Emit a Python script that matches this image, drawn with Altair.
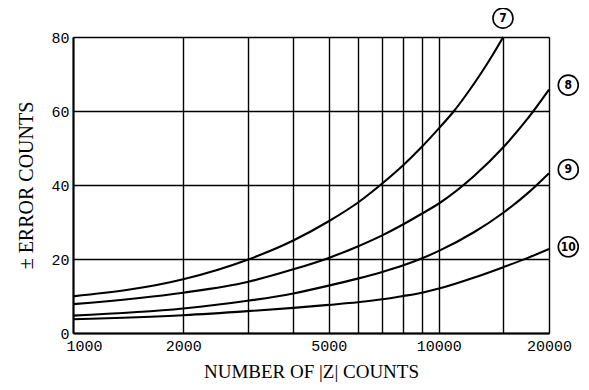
import altair as alt
import pandas as pd

# ---- data ----
x7 = [1000, 2000, 3000, 4000, 5000, 6000, 7000, 8000, 9000, 10000, 11000, 12000, 13000, 14000, 15000]
y7 = [9.9, 14.5, 19.8, 25.0, 30.2, 35.2, 40.4, 45.4, 50.4, 55.3, 60.0, 65.0, 70.0, 75.0, 80.0]

x_rest = [1000, 2000, 3000, 4000, 5000, 6000, 7000, 8000, 9000, 10000, 12500, 15000, 17500, 20000]
y8 = [7.8, 10.9, 13.8, 17.2, 20.3, 23.4, 26.4, 29.4, 32.3, 35.0, 42.5, 50.2, 58.0, 65.8]
y9 = [4.7, 6.6, 8.7, 10.7, 12.8, 14.7, 16.5, 18.3, 20.2, 22.2, 27.3, 32.5, 37.8, 43.2]
y10 = [3.7, 4.8, 5.9, 6.8, 7.6, 8.3, 9.1, 10.0, 10.9, 12.0, 15.0, 17.8, 20.3, 22.7]

grid_x = [1000, 2000, 3000, 4000, 5000, 6000, 7000, 8000, 9000, 10000, 15000, 20000]
label_x = [1000, 2000, 5000, 10000, 20000]
grid_y = [0, 20, 40, 60, 80]

tag_names = ["7", "8", "9", "10"]
tag_x = [14970, 22580, 22580, 22580]
tag_y = [85.1, 67.0, 44.2, 23.3]

rows = []
for xs, ys, name in [(x7, y7, "7"), (x_rest, y8, "8"), (x_rest, y9, "9"), (x_rest, y10, "10")]:
    for a, b in zip(xs, ys):
        rows.append({"x": a, "y": b, "curve": name})
df = pd.DataFrame(rows)
tags = pd.DataFrame({"x": tag_x, "y": tag_y, "t": tag_names})

label_list = ",".join(str(v) for v in label_x)

xscale = alt.Scale(type="log", domain=[1000, 20000], nice=False)
yscale = alt.Scale(domain=[0, 80], nice=False, zero=False)

lines = alt.Chart(df).mark_line(color="black", strokeWidth=2.1, interpolate="monotone").encode(
    x=alt.X("x:Q", scale=xscale, axis=alt.Axis(
        values=grid_x, format="d",
        labelExpr=f"indexof([{label_list}], datum.value) >= 0 ? datum.label : ''",
        labelFlush=False,
        labelOffset={"expr": "datum.value == 1000 ? 11 : 0"},
        labelOverlap=False, title="NUMBER OF |Z| COUNTS",
        labelFont="Liberation Mono", labelFontSize=15, labelPadding=5,
        titleFont="Liberation Serif", titleFontSize=19, titleFontWeight="normal",
        titleBaseline="alphabetic", titleY=44,
        tickSize=0, grid=True, gridColor="black", gridWidth=1.4,
        gridOpacity=1, domainColor="black", domainWidth=2, labelColor="black", titleColor="black",
    )),
    y=alt.Y("y:Q", scale=yscale, axis=alt.Axis(
        values=grid_y, title="± ERROR COUNTS",
        labelFont="Liberation Mono", labelFontSize=15, labelPadding=4,
        titleFont="Liberation Serif", titleFontSize=20, titleFontWeight="normal",
        titleBaseline="alphabetic", titleX=-41,
        tickSize=0, grid=True, gridColor="black", gridWidth=1.4,
        gridOpacity=1, domainColor="black", domainWidth=2, labelColor="black", titleColor="black",
    )),
    detail="curve:N",
)

circles = alt.Chart(tags).mark_point(
    shape="circle", size=400, filled=False, color="black", strokeWidth=1.6, clip=False, opacity=1
).encode(x=alt.X("x:Q", scale=xscale), y=alt.Y("y:Q", scale=yscale))

texts = alt.Chart(tags).mark_text(
    font="DejaVu Sans Condensed", fontSize=12, fontWeight="bold", color="black", clip=False,
    baseline="middle", align="center"
).encode(x=alt.X("x:Q", scale=xscale), y=alt.Y("y:Q", scale=yscale), text="t:N")

chart = alt.layer(lines, circles, texts).properties(
    width=476, height=296,
    autosize=alt.AutoSizeParams(type="none"),
    padding={"left": 65, "top": 29, "right": 32, "bottom": 49},
).configure_view(stroke="black", strokeWidth=2).configure(background="white")

chart.save("out.html", embed_options={"renderer": "svg", "actions": False})
